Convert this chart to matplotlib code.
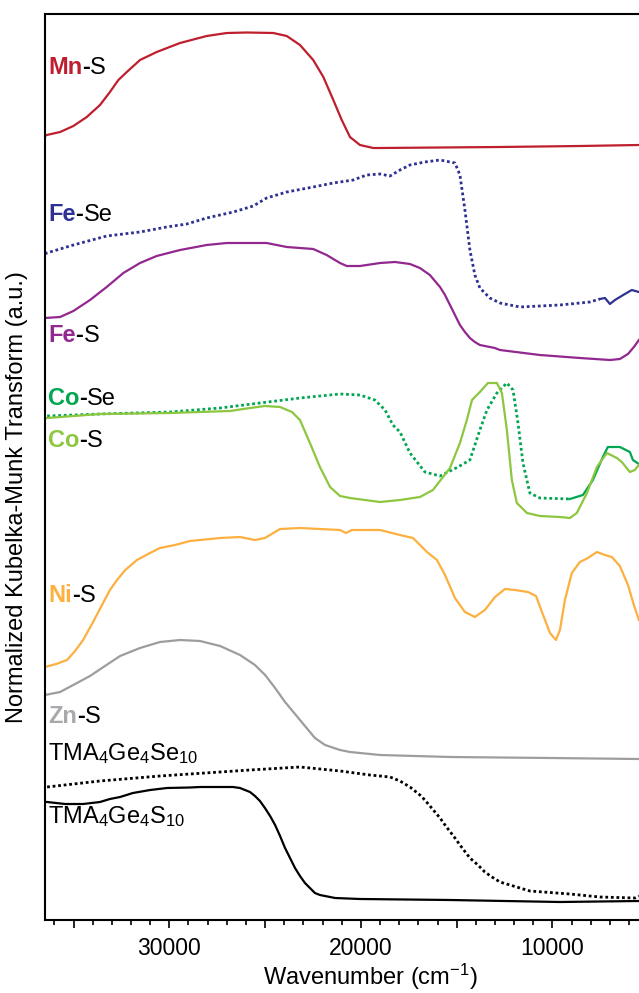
import numpy as np
import matplotlib
matplotlib.use("Agg")
import matplotlib.pyplot as plt
from matplotlib.ticker import MultipleLocator, FuncFormatter

plt.rcParams['font.family'] = ['Liberation Sans', 'DejaVu Sans']
plt.rcParams['mathtext.fontset'] = 'custom'
plt.rcParams['mathtext.rm'] = 'Liberation Sans'
plt.rcParams['mathtext.it'] = 'Liberation Sans:italic'
plt.rcParams['mathtext.bf'] = 'Liberation Sans:bold'

mn_s_w = [36490, 36400, 35700, 35010, 34310, 33620, 33100, 32660, 32220, 31530, 30660, 29440, 28050, 27000,
          25960, 24570, 23870, 23180, 22490, 21960, 21440, 21000, 20570, 20050, 19350, 19000, 12740, 8560, 5490]
mn_s_y = [784, 785, 788, 794, 803, 815, 828, 840, 848, 860, 868, 877, 884, 887,
          887.5, 887, 884, 875, 860, 843, 820, 800, 783, 775, 772, 772, 773, 774, 775]

fe_se_w = [36490, 36400, 35010, 33270, 31530, 30140, 29090, 28050, 26660, 25620, 24920, 23870, 22490, 21440,
           20400, 19700, 19000, 18480, 17960, 17440, 16660, 15870, 15090, 14830, 14570, 14310, 14050, 13790,
           13270, 12740, 11700, 9610, 8050, 7530, 7260, 7000, 6740, 6220, 5860, 5490]
fe_se_y = [666, 667, 675, 684, 688, 693, 696, 702, 708, 714, 722, 728, 733, 737,
           740, 745, 746, 744, 750, 755, 758, 760, 757, 745, 710, 670, 645, 632,
           622, 617, 613, 615, 618, 621, 622, 616, 620, 626, 630, 628]

fe_s_w = [36490, 35700, 35010, 34140, 33270, 32400, 31530, 30660, 29440, 28050, 27000, 24920, 23870, 22490,
          21790, 21090, 20740, 20050, 19000, 18220, 17440, 16920, 16400, 15870, 15610, 15350, 15090, 14830,
          14570, 14310, 14050, 13790, 13010, 12740, 10660, 8570, 7000, 6480, 6060, 5750, 5490]
fe_s_y = [602, 603, 609, 620, 633, 647, 657, 664, 670, 675, 677, 677, 673, 671,
          665, 657, 654, 654, 657, 658, 656, 652, 645, 633, 625, 615, 605, 595,
          588, 582, 578, 575, 572, 570, 565, 562, 560, 561, 566, 573, 580]

co_se_w = [36380, 33620, 29960, 27350, 25270, 23180, 21090, 20050, 19270, 18740, 18330, 17960, 17440, 16660,
           15870, 14930, 14310, 13790, 13420, 12900, 12380, 12060, 11800, 11540, 11180, 10660, 9090,
           8410, 7890, 7370, 7110, 6480, 5960, 5800, 5490]
co_se_y = [504, 506, 508, 512, 517, 522, 526, 525, 520, 510, 495, 488, 467, 448,
           444, 453, 460, 490, 510, 527, 537, 530, 497, 457, 427, 422, 421,
           425, 440, 463, 473, 473, 468, 460, 456]

co_s_w = [36380, 33620, 29960, 26830, 25790, 25010, 24220, 23600, 23180, 22660, 22140, 21610, 21090, 20570,
          19790, 19000, 17960, 16920, 16240, 15350, 14830, 14470, 14200, 13790, 13370, 12900, 12640,
          12380, 12120, 11860, 11330, 10660, 9610, 9090, 8730, 8200, 7680, 7160, 6640, 6380, 5960,
          5700, 5490]
co_s_y = [502, 506, 507, 509, 512, 514, 513, 508, 500, 477, 453, 433, 424, 422,
          420, 418, 420, 423, 430, 452, 477, 500, 520, 528, 537, 537, 527,
          490, 440, 417, 407, 404, 403, 402, 407, 427, 453, 467, 462, 458, 448,
          450, 455]

ni_s_w = [36490, 35910, 35340, 34920, 34500, 33980, 33460, 33100, 32730, 32300, 31690, 31010, 30490, 29700,
          28920, 27350, 26310, 25530, 25010, 24220, 23180, 21090, 20780, 20470, 19000, 17960, 17280,
          16550, 16030, 15610, 15090, 14570, 14050, 13530, 13000, 12480, 11960, 11280, 10860, 10550,
          10130, 9820, 9610, 9350, 8990, 8570, 8150, 7680, 7260, 6900, 6480, 6060, 5750, 5490]
ni_s_y = [253, 256, 260, 269, 280, 298, 317, 330, 340, 350, 360, 367, 372, 375,
          379, 382, 383, 380, 382, 391, 392, 390, 387, 390, 390, 385, 382,
          368, 360, 345, 322, 308, 303, 310, 323, 331, 330, 328, 324, 308,
          287, 280, 290, 320, 347, 358, 362, 368, 365, 363, 354, 335, 315, 300]

zn_s_w = [36490, 35700, 34920, 34140, 33360, 32570, 31530, 30490, 29440, 28400, 27350, 26310, 25530, 25000,
          24480, 23960, 23440, 22920, 22400, 21870, 21090, 20570, 19000, 15350, 10130, 5490]
zn_s_y = [225, 228, 236, 244, 254, 264, 272, 278, 280, 279, 274, 265, 255, 245,
          232, 218, 206, 194, 182, 175, 170, 168, 165, 163, 162, 161]

tma_se_w = [36380, 33620, 30490, 25790, 23180, 21090, 19530, 18480, 17960, 17440, 16920, 16660, 15870,
            15610, 15090, 14830, 14310, 13890, 13530, 13160, 12740, 12220, 11180, 9090, 7530, 5700, 5490]
tma_se_y = [133, 139, 144, 150, 153, 149, 145, 143, 139, 133, 125, 120, 102,
            95, 82, 75, 62, 55, 48, 43, 38, 35, 29, 26, 23, 22, 24]

tma_s_w = [36380, 35440, 34500, 33620, 33100, 32570, 31900, 31000, 30120, 28920, 28400, 26680, 26310, 26050,
           25790, 25530, 25270, 25010, 24740, 24480, 24220, 23960, 23700, 23440, 23180, 22920, 22660,
           22400, 22140, 21610, 21350, 20050, 15350, 9610, 5490]
tma_s_y = [118, 116, 116, 118, 121, 123, 127, 130, 132, 132.5, 133, 133, 132, 130,
           128, 124, 119, 112, 104, 95, 84, 72, 62, 52, 44, 37, 32,
           27, 25, 23, 22, 21, 20, 18, 19]

red = '#BE1E2D'
blue = '#2E3192'
purple = '#92278F'
green = '#00A651'
lime = '#8DC63F'
orange = '#FBB040'
grey = '#9D9D9D'

fig = plt.figure(figsize=(6.39, 9.93), dpi=100)
ax = fig.add_axes([45 / 639, 73 / 993, 650 / 639, 906 / 993])

lw = 1.6
dot = dict(lw=2.0, linestyle=(0, (1, 1)), dash_capstyle='butt')

ax.plot(mn_s_w, mn_s_y, color=red, lw=lw)
fe_se_w, fe_se_y = np.array(fe_se_w), np.array(fe_se_y)
ax.plot(fe_se_w[fe_se_w >= 7530], fe_se_y[fe_se_w >= 7530], color=blue, **dot)
ax.plot(fe_se_w[fe_se_w <= 7530], fe_se_y[fe_se_w <= 7530], color=blue, lw=lw)
ax.plot(fe_s_w, fe_s_y, color=purple, lw=lw)
co_se_w, co_se_y = np.array(co_se_w), np.array(co_se_y)
ax.plot(co_se_w[co_se_w >= 9090], co_se_y[co_se_w >= 9090], color=green, **dot)
ax.plot(co_se_w[co_se_w <= 9090], co_se_y[co_se_w <= 9090], color=green, lw=lw)
ax.plot(co_s_w, co_s_y, color=lime, lw=lw)
ax.plot(ni_s_w, ni_s_y, color=orange, lw=lw)
ax.plot(zn_s_w, zn_s_y, color=grey, lw=lw)
ax.plot(tma_se_w, tma_se_y, color='black', **dot)
ax.plot(tma_s_w, tma_s_y, color='black', lw=lw)

# sample labels: coloured metal, black remainder
fs = 17
labels = [
    ('Mn', red, '-S', 846),
    ('Fe', blue, '-Se', 699),
    ('Fe', purple, '-S', 578),
    ('Co', green, '-Se', 515),
    ('Co', lime, '-S', 473),
    ('Ni', orange, '-S', 318),
    ('Zn', '#A7A9AC', '-S', 197),
]
for metal, c, rest, yl in labels:
    t1 = ax.text(36330, yl, metal, color=c, fontweight='bold', fontsize=fs, va='baseline')
    t2 = ax.annotate('-', xy=(1, 0), xycoords=t1, va='bottom', ha='left',
                     fontsize=fs, fontweight='bold', color='black')
    ax.annotate(rest[1:], xy=(1, 0), xycoords=t2, va='bottom', ha='left', fontsize=fs)

ax.text(36330, 160, r'TMA$_4$Ge$_4$Se$_{10}$', fontsize=fs, va='baseline')
ax.text(36330, 97, r'TMA$_4$Ge$_4$S$_{10}$', fontsize=fs, va='baseline')

ax.set_xlim(36490, 2560)
ax.set_ylim(0, 906)
ax.set_yticks([])
ax.spines['right'].set_visible(False)
for s in ['left', 'top', 'bottom']:
    ax.spines[s].set_linewidth(1.5)

ax.xaxis.set_major_locator(MultipleLocator(5000))
ax.xaxis.set_minor_locator(MultipleLocator(1000))
ax.xaxis.set_major_formatter(FuncFormatter(lambda v, p: f'{int(v)}' if v % 10000 == 0 else ''))
ax.tick_params(axis='x', which='major', direction='out', length=6, width=1.2, labelsize=16.5, pad=6)
ax.tick_params(axis='x', which='minor', direction='out', length=3.6, width=1.2)

ax.set_xlabel('Wavenumber (cm$^{-1}$)', fontsize=17)
ax.xaxis.set_label_coords(0.5, -0.046)
ax.xaxis.label.set_va('top')
ax.set_ylabel('Normalized Kubelka-Munk Transform (a.u.)', fontsize=17)
ax.yaxis.set_label_coords(-0.026, 0.467)

fig.savefig('out.png', dpi=100)
